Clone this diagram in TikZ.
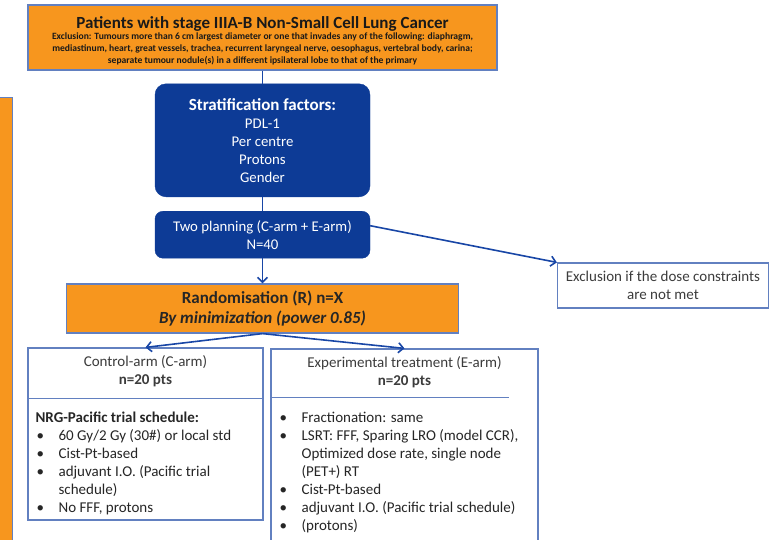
\documentclass[tikz,border=0pt]{standalone}
\usepackage{fontspec}
\setmainfont{Carlito}
\usetikzlibrary{arrows.meta,positioning}
\definecolor{trialorange}{RGB}{247,150,30}
\definecolor{trialnavy}{RGB}{13,59,150}
\definecolor{trialedge}{RGB}{98,128,192}
\definecolor{arrowblue}{RGB}{24,70,166}
\definecolor{textgray}{RGB}{60,60,60}
\newcommand{\blt}{\makebox[22pt][l]{\textbullet}}

\begin{document}
\begin{tikzpicture}[
    x=1pt, y=-1pt,
    orangebox/.style={draw=trialedge, line width=1.2pt, fill=trialorange, align=center, inner sep=2pt},
    navybox/.style={draw=trialnavy, fill=trialnavy, rounded corners=11pt, text=white, align=center, minimum width=215pt},
    whitebox/.style={draw=trialedge, line width=1.2pt, fill=white, align=center},
    armtxt/.style={align=center, font=\fontsize{15}{18}\selectfont, text=textgray},
    listtxt/.style={align=left, inner sep=0pt, font=\fontsize{15}{18}\selectfont, text=black!85},
    link/.style={line width=1.6pt, arrowblue},
    arr/.style={-{Straight Barb[length=5pt,width=10pt]}, line width=1.6pt, arrowblue}
]
\useasboundingbox (0,0) rectangle (769,539);
\clip (0,0) rectangle (769,539);

% flow down the middle
\node[orangebox, minimum width=469pt, minimum height=65pt, font=\fontsize{9.6}{11.8}\selectfont\bfseries, text=black!90] (patients) at (262.5,37.5)
    {\rule{0pt}{18pt}{\fontsize{17}{18}\selectfont Patients with stage IIIA-B Non-Small Cell Lung Cancer}\\[0pt]
     Exclusion: Tumours more than 6 cm largest diameter or one that invades any of the following: diaphragm,\\
     mediastinum, heart, great vessels, trachea, recurrent laryngeal nerve, oesophagus, vertebral body, carina;\\
     separate tumour nodule(s) in a different ipsilateral lobe to that of the primary};
\node[navybox, below=13pt of patients, minimum height=113pt, font=\fontsize{14.8}{18}\selectfont] (strat)
    {{\fontsize{17}{18}\selectfont\bfseries Stratification factors:}\\PDL-1\\Per centre\\Protons\\Gender};
\node[navybox, below=14pt of strat, minimum height=47pt, rounded corners=8pt, font=\fontsize{14.8}{18}\selectfont] (plan)
    {Two planning (C-arm + E-arm)\\N=40};
\node[orangebox, below=25pt of plan, minimum width=392pt, minimum height=49pt, font=\fontsize{17}{20}\selectfont\bfseries, text=black!85] (random)
    {Randomisation (R) n=X\\\textit{By minimization (power 0.85)}};
\node[whitebox, minimum width=211pt, minimum height=45pt, font=\fontsize{15}{17.5}\selectfont, text=textgray] (excl) at (663,285.5)
    {Exclusion if the dose constraints\\are not met};

% side bar, cut by the frame
\node[orangebox, anchor=north east, minimum width=40pt, minimum height=470pt] (sidebar) at (13,97) {};

% control arm
\node[whitebox, minimum width=235pt, minimum height=172pt] (ctrl) at (145.5,434) {};
\node[armtxt] (ctrlhead) at ([yshift=-24pt]ctrl.north) {Control-arm (C-arm)\\\textbf{n=20 pts}};
\coordinate (ctrlcut) at ([yshift=-51pt]ctrl.north);
\draw[draw=trialedge, line width=1.2pt] (ctrl.west |- ctrlcut) -- (ctrl.east |- ctrlcut);
\node[listtxt, anchor=north west] (ctrlbody) at ([xshift=8pt,yshift=-13pt]ctrl.west |- ctrlcut)
    {\textbf{NRG-Pacific trial schedule:}\\
     \hspace*{1pt}\blt 60 Gy/2 Gy (30\#) or local std\\
     \hspace*{1pt}\blt Cist-Pt-based\\
     \hspace*{1pt}\blt adjuvant I.O. (Pacific trial\\
     \hspace*{23pt}schedule)\\
     \hspace*{1pt}\blt No FFF, protons};

% experimental arm
\node[whitebox, minimum width=267pt, minimum height=200pt] (exper) at (404.5,449) {};
\node[armtxt] (experhead) at ([yshift=-24pt]exper.north) {Experimental treatment (E-arm)\\\textbf{n=20 pts}};
\coordinate (expercut) at ([yshift=-49pt]exper.north);
\draw[draw=trialedge, line width=1.2pt] (exper.west |- expercut) -- ([xshift=-30pt]exper.east |- expercut);
\node[listtxt, anchor=north west] (experbody) at ([xshift=9pt,yshift=-15pt]exper.west |- expercut)
    {\blt Fractionation: same\\
     \blt LSRT: FFF, Sparing LRO (model CCR),\\
     \hspace*{22pt}Optimized dose rate, single node\\
     \hspace*{22pt}(PET+) RT\\
     \blt Cist-Pt-based\\
     \blt adjuvant I.O. (Pacific trial schedule)\\
     \blt (protons)};

\draw[link] (patients) -- (strat);
\draw[link] (strat) -- (plan);
\draw[arr] (plan) -- (random);
\draw[arr] ([yshift=9pt]plan.east) -- (excl.north west);
\draw[arr] (random.south) -- (ctrl.north);
\draw[arr] (random.south) -- (exper.north);
\end{tikzpicture}
\end{document}
